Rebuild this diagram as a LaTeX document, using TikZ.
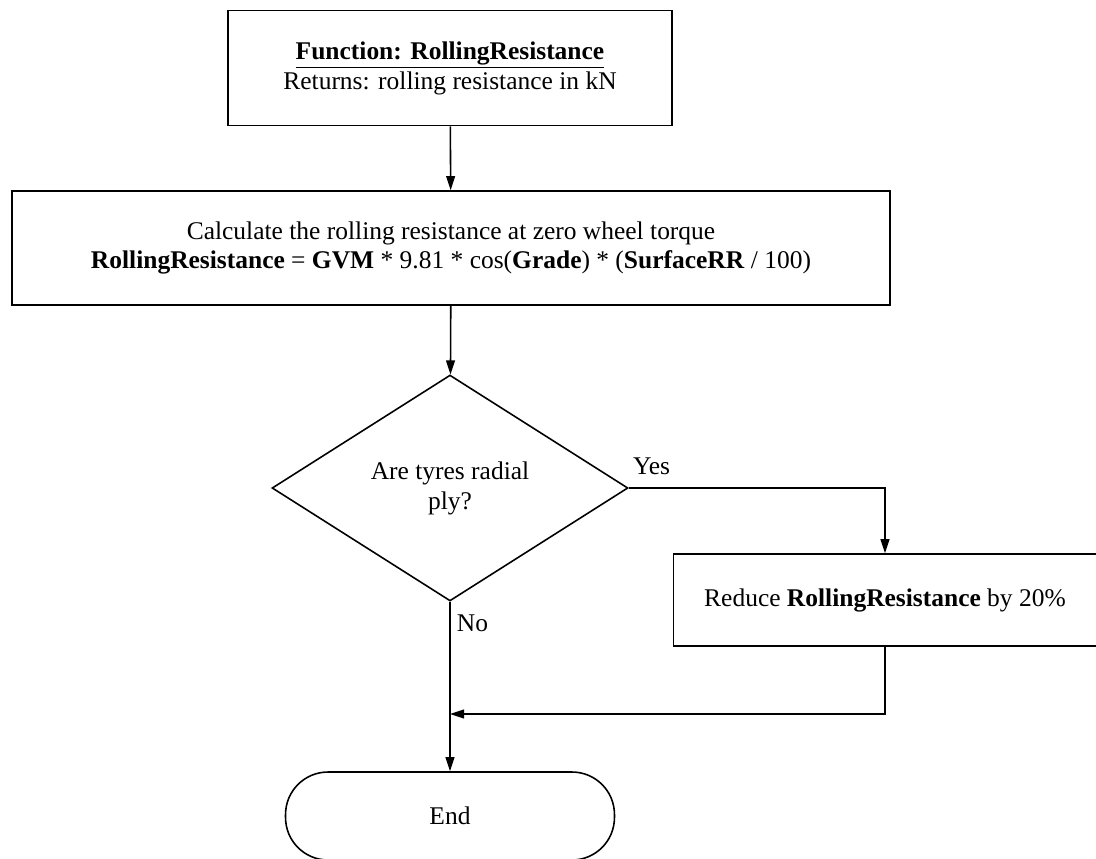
\documentclass[tikz,border=0pt]{standalone}
\usepackage{fontspec}
\setmainfont{Liberation Serif}
\usetikzlibrary{shapes.geometric,arrows.meta}

\tikzset{
  box/.style={draw, line width=0.9pt, align=center, inner sep=0pt},
  decision/.style={draw, diamond, line width=0.9pt, align=center, inner sep=0pt},
  terminal/.style={draw, rounded corners=0.85cm, line width=0.9pt, inner sep=0pt},
  flow/.style={line width=0.9pt, -{Triangle[length=8pt,width=5pt]}},
}

\begin{document}
\begin{tikzpicture}[x=0.02cm, y=-0.02cm, font=\fontsize{14.5}{17}\selectfont]
    \useasboundingbox (0,0) rectangle (1096,859);
    \node[box, minimum width=8.88cm, minimum height=2.3cm] (func) at (450,68)
        {\underline{\textbf{Function: RollingResistance}}\\Returns: rolling resistance in kN};
    \node[box, minimum width=17.56cm, minimum height=2.28cm] (calc) at (451,248)
        {Calculate the rolling resistance at zero wheel torque\\
         \textbf{RollingResistance} = \textbf{GVM} * 9.81 * cos(\textbf{Grade}) * (\textbf{SurfaceRR} / 100)};
    \node[decision, minimum width=7.12cm, minimum height=4.52cm] (tyres) at (450,488)
        {Are tyres radial\\ply?};
    \node[box, minimum width=8.46cm, minimum height=1.84cm] (reduce) at (885,600)
        {Reduce \textbf{RollingResistance} by 20\%};
    \node[terminal, minimum width=6.58cm, minimum height=1.76cm] (end) at (450,816) {End};
    \coordinate (join) at (450,714);

    \draw[flow] (func) -- (calc);
    \draw[flow] (calc) -- (tyres);
    \draw[flow] (tyres.east) -| node[pos=0, anchor=south west, inner sep=0pt, xshift=2pt, yshift=7pt] {Yes} (reduce.north);
    \draw[flow] (tyres.south) -- node[pos=0, anchor=north west, inner sep=0pt, xshift=3.5pt, yshift=-7pt] {No} (end.north);
    \draw[flow] (reduce.south) |- (join);
\end{tikzpicture}
\end{document}
